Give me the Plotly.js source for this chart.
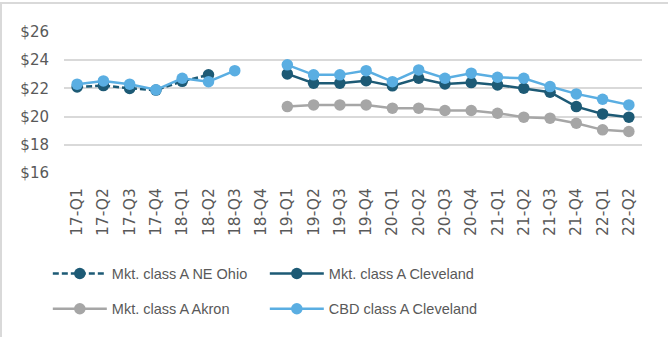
<!DOCTYPE html>
<html>
<head>
<meta charset="utf-8">
<script src="https://cdn.plot.ly/plotly-3.0.1.min.js"></script>
<style>
html,body{margin:0;padding:0;background:#fff;overflow:hidden;}
#frame{position:absolute;left:0;top:2px;width:700px;height:400px;border-top:2px solid #d9d9d9;border-left:2px solid #d9d9d9;box-sizing:border-box;}
#chart{position:absolute;left:0;top:0;width:668px;height:337px;}
</style>
</head>
<body>
<div id="frame"></div>
<div id="chart"></div>
<script>
const categories = ["17-Q1","17-Q2","17-Q3","17-Q4","18-Q1","18-Q2","18-Q3","18-Q4",
  "19-Q1","19-Q2","19-Q3","19-Q4","20-Q1","20-Q2","20-Q3","20-Q4",
  "21-Q1","21-Q2","21-Q3","21-Q4","22-Q1","22-Q2"];
const neOhio = [22.10,22.20,22.00,21.88,22.50,22.96,null,null,
  null,null,null,null,null,null,null,null,null,null,null,null,null,null];
const cleveland = [null,null,null,null,null,null,null,null,
  23.03,22.37,22.37,22.55,22.18,22.72,22.32,22.41,22.25,22.01,21.73,20.71,20.19,19.96];
const akron = [null,null,null,null,null,null,null,null,
  20.71,20.83,20.83,20.83,20.60,20.60,20.43,20.43,20.24,19.96,19.89,19.53,19.06,18.94];
const cbd = [22.30,22.53,22.30,21.90,22.72,22.48,23.26,null,
  23.67,22.96,22.96,23.26,22.48,23.31,22.72,23.08,22.79,22.72,22.13,21.61,21.23,20.83];
const yTicks = [16,18,20,22,24,26];
const yTickText = ["$16","$18","$20","$22","$24","$26"];

const darkTeal = "#1d5a75";
const lightBlue = "#5aaee2";
const gray = "#a6a6a6";

const traces = [
  {name:"Mkt. class A NE Ohio", x:categories, y:neOhio, mode:"lines+markers",
   line:{color:darkTeal,width:2.5,dash:"6px,3px"}, marker:{color:darkTeal,size:11.5}, legend:"legend"},
  {name:"Mkt. class A Cleveland", x:categories, y:cleveland, mode:"lines+markers",
   line:{color:darkTeal,width:2.5}, marker:{color:darkTeal,size:11.5}, legend:"legend"},
  {name:"Mkt. class A Akron", x:categories, y:akron, mode:"lines+markers",
   line:{color:gray,width:2.5}, marker:{color:gray,size:11.5}, legend:"legend2"},
  {name:"CBD class A Cleveland", x:categories, y:cbd, mode:"lines+markers",
   line:{color:lightBlue,width:2.5}, marker:{color:lightBlue,size:11.5}, legend:"legend2"}
];

const legendCommon = {orientation:"h", xanchor:"left", yanchor:"top", x:-0.028,
  itemwidth:54, entrywidth:148, bgcolor:"rgba(0,0,0,0)",
  font:{family:"Liberation Sans, Arial, sans-serif", size:14.5, color:"#595959"}};

const layout = {
  width:668, height:337,
  margin:{l:64, r:26, t:32, b:164},
  paper_bgcolor:"rgba(0,0,0,0)", plot_bgcolor:"rgba(0,0,0,0)",
  showlegend:true,
  xaxis:{type:"category", range:[-0.5,21.5], tickangle:-90, showgrid:false, zeroline:false,
    showline:false, ticks:"", ticklabelstandoff:11,
    tickfont:{family:"DejaVu Sans, sans-serif", size:15.5, color:"#595959"}},
  yaxis:{range:[16,26], tickvals:yTicks, ticktext:yTickText, showgrid:true,
    gridcolor:"#d9d9d9", gridwidth:2, zeroline:false, showline:false, ticks:"",
    ticklabelstandoff:14,
    tickfont:{family:"DejaVu Sans, sans-serif", size:15, color:"#595959"}},
  legend:Object.assign({}, legendCommon, {y:-0.60}),
  legend2:Object.assign({}, legendCommon, {y:-0.85})
};

Plotly.newPlot("chart", traces, layout, {staticPlot:true, displayModeBar:false});
</script>
</body>
</html>
